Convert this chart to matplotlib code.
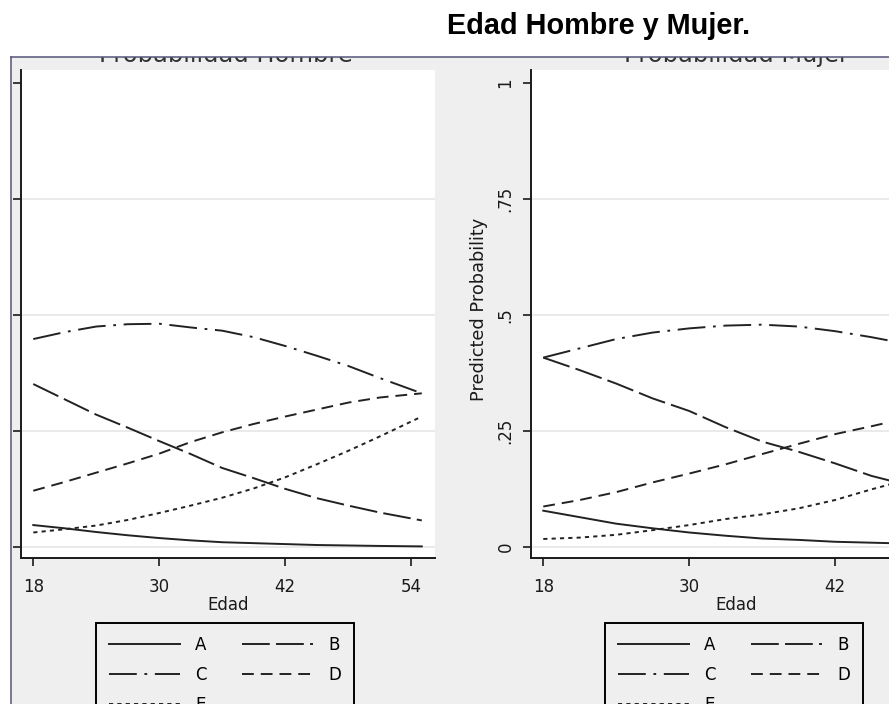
import matplotlib
matplotlib.use('Agg')
import matplotlib.pyplot as plt
from matplotlib.patches import Rectangle
from matplotlib.lines import Line2D
from matplotlib.transforms import Bbox, TransformedBbox

plt.rcParams['font.family'] = ['DejaVu Sans']
plt.rcParams['lines.scale_dashes'] = False

W, H = 889, 704

categories = ['A', 'B', 'C', 'D', 'E']

# predicted probabilities by age, men
ages_h = [18, 21, 24, 27, 30, 33, 36, 39, 42, 45, 48, 51, 55]
hombre_a = [.047, .040, .032, .025, .019, .014, .010, .008, .006, .004, .003, .002, .001]
hombre_b = [.351, .318, .285, .257, .228, .200, .170, .148, .125, .105, .089, .074, .057]
hombre_c = [.448, .463, .475, .480, .481, .473, .466, .452, .433, .412, .390, .364, .331]
hombre_d = [.121, .140, .160, .180, .201, .226, .247, .265, .281, .296, .311, .322, .331]
hombre_e = [.031, .038, .046, .058, .073, .089, .106, .126, .150, .178, .207, .238, .281]

# predicted probabilities by age, women
ages_m = [18, 21, 24, 27, 30, 33, 36, 39, 42, 45, 48, 50]
mujer_a = [.078, .064, .050, .040, .031, .024, .018, .015, .011, .009, .007, .006]
mujer_b = [.408, .381, .352, .320, .293, .258, .227, .205, .180, .153, .133, .120]
mujer_c = [.408, .428, .448, .462, .471, .477, .479, .475, .465, .452, .437, .425]
mujer_d = [.087, .101, .118, .139, .158, .178, .200, .222, .243, .260, .278, .290]
mujer_e = [.017, .020, .026, .036, .047, .060, .070, .083, .101, .124, .145, .159]

xticks = [18, 30, 42, 54]
yticks = [0, .25, .5, .75, 1]
yticklabels = ['0', '.25', '.5', '.75', '1']
grid_levels = [0, .25, .5, .75]

line_styles = ['-', (0, (20, 4.5)), (0, (20, 5.5, 2, 5.5)), (0, (8.5, 5)), (0, (3, 3))]
ink = '#1a1a1a'
bg = '#efefef'


def px_box(left, top, right, bottom):
    return [left / W, 1 - bottom / H, (right - left) / W, (bottom - top) / H]


def draw_panel(ax, ages, series, xlim, show_ylabels):
    ax.set_facecolor('white')
    for g in grid_levels:
        ax.axhline(g, color='#e6e6e6', lw=1.2, zorder=0)
    handles = []
    for vals, ls in zip(series, line_styles):
        ln, = ax.plot(ages, vals, color='#222222', lw=1.4, linestyle=ls)
        handles.append(ln)
    ax.set_xlim(*xlim)
    ax.set_ylim(-0.024, 1.028)
    for s in ['top', 'right']:
        ax.spines[s].set_visible(False)
    for s in ['left', 'bottom']:
        ax.spines[s].set_linewidth(1.4)
        ax.spines[s].set_color(ink)
    ax.set_xticks([t for t in xticks if t <= xlim[1]])
    ax.set_yticks(yticks, yticklabels)
    ax.tick_params(length=5.8, width=1.2, color=ink, labelcolor=ink, labelsize=12)
    ax.tick_params(axis='x', pad=8.5)
    ax.tick_params(axis='y', pad=6, labelrotation=90, labelleft=show_ylabels)
    for lab in ax.get_yticklabels():
        lab.set_va('center')
    ax.set_xlabel('Edad', fontsize=12, color=ink, labelpad=0)
    return handles


fig = plt.figure(figsize=(W / 100, H / 100), dpi=100, facecolor=bg)
ax_h = fig.add_axes(px_box(21, 70, 435, 558))
ax_m = fig.add_axes(px_box(531, 70, 942, 558))

h_lines = draw_panel(ax_h, ages_h, [hombre_a, hombre_b, hombre_c, hombre_d, hombre_e],
                     (16.83, 56.26), False)
m_lines = draw_panel(ax_m, ages_m, [mujer_a, mujer_b, mujer_c, mujer_d, mujer_e],
                     (16.99, 50.8), True)
ax_m.set_ylabel('Predicted Probability', fontsize=12.8, color=ink)
ax_m.yaxis.set_label_coords(-43 / 411, 0.51)

# legends: fill row by row (A B / C D / E)
order = [0, 2, 4, 1, 3]
for handles, left in [(h_lines, 96), (m_lines, 605)]:
    leg = fig.legend([handles[i] for i in order], [categories[i] for i in order],
                     ncol=2, loc='upper left', bbox_to_anchor=(left / W, 1 - 623 / H),
                     bbox_transform=fig.transFigure, frameon=True, fancybox=False,
                     edgecolor='black', facecolor=bg, framealpha=1, fontsize=12,
                     handlelength=4.3, handletextpad=0.9, columnspacing=2.1,
                     borderpad=0.75, labelspacing=0.72, borderaxespad=0)
    leg.get_frame().set_linewidth(1.4)
    leg.set_zorder(3)

# panel titles, cut off by the header band
below_header = TransformedBbox(Bbox([[0, 0], [1, 1 - 57 / H]]), fig.transFigure)
for cx, name in [(226, 'Probabilidad Hombre'), (736, 'Probabilidad Mujer')]:
    t = fig.text(cx / W, 1 - 62 / H, name, fontsize=17.4, color='#333333',
                 ha='center', va='baseline', zorder=1)
    t.set_clip_box(below_header)
    t.set_clip_on(True)

fig.add_artist(Rectangle((0, 1 - 57 / H), 1, 57 / H, transform=fig.transFigure,
                         facecolor='white', edgecolor='none', zorder=5))
fig.add_artist(Rectangle((0, 0), 11 / W, 1 - 57 / H, transform=fig.transFigure,
                         facecolor='white', edgecolor='none', zorder=5))
fig.add_artist(Line2D([11 / W, 1], [1 - 57 / H] * 2, transform=fig.transFigure,
                      color='#55557a', lw=1.1, zorder=6))
fig.add_artist(Line2D([11 / W] * 2, [0, 1 - 57 / H], transform=fig.transFigure,
                      color='#55557a', lw=1.1, zorder=6))

fig.text(447 / W, 1 - 34.3 / H, 'Edad Hombre y Mujer.', fontsize=20.8, fontweight='bold',
         family=['Liberation Sans', 'DejaVu Sans'], color='black',
         ha='left', va='baseline', zorder=7)

fig.savefig('out.png', dpi=100, facecolor=fig.get_facecolor())
